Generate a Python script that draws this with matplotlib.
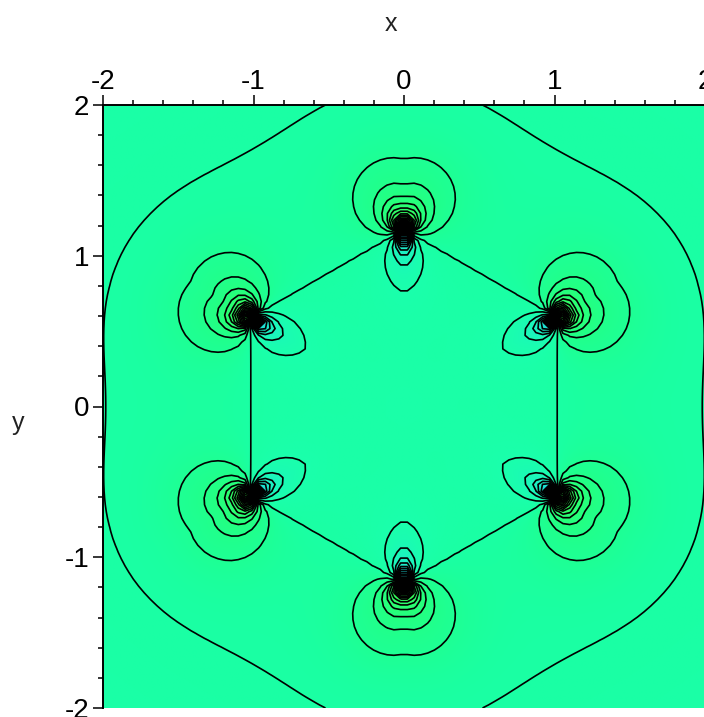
import numpy as np
import matplotlib
matplotlib.use("Agg")
import matplotlib.pyplot as plt
from matplotlib.colors import LinearSegmentedColormap, Normalize

plt.rcParams['font.family'] = ['Liberation Sans', 'DejaVu Sans']

source_angles = [90, 150, 210, 270, 330, 30]
source_radius = 1.165
outer_strength = 0.56
inner_strength = 0.36
side_share = 0.6
tail_reach = 0.7
hex_apothem = 1.02
outer_radius = 2.03
outer_wobble = 0.05
center_value = 0.6
contour_levels = [v for v in range(-60, 61)]
x_ticks = [-2, -1, 0, 1, 2]
y_ticks = [-2, -1, 0, 1, 2]
color_values = [-8, -3, -1, 0, 1, 3, 8]
color_list = ['#3cff50', '#24ff80', '#1eff94', '#1affa4', '#1affac', '#1cf4c0', '#20d8d8']


def field(x, y):
    r = np.hypot(x, y)
    phi = np.arctan2(y, x)
    # everything carries the hexagon factor, so the hexagon itself stays a level line
    faces = [np.abs(x*np.cos(np.radians(a)) + y*np.sin(np.radians(a))) for a in (0, 60, 120)]
    hex_part = np.max(faces, axis=0) / hex_apothem - 1
    big_r = outer_radius + outer_wobble*np.cos(6*(phi - np.pi/2))
    total = center_value * (r/big_r - 1)
    # one dipole at each corner of the hexagon
    for a in source_angles:
        nx, ny = np.cos(np.radians(a)), np.sin(np.radians(a))
        dx = x - source_radius*nx
        dy = y - source_radius*ny
        rho2 = dx**2 + dy**2 + 1e-5
        cos2 = (dx*nx + dy*ny)**2 / rho2
        strength = np.where(hex_part > 0, outer_strength, inner_strength)
        strength = strength * (side_share + (1 - side_share)*cos2)
        total = total - strength / rho2**1.125 * np.exp(-rho2**2/tail_reach**4)
    return total * hex_part


fig = plt.figure(figsize=(7.04, 7.17), dpi=100)
ax = fig.add_axes([103/704, 1 - 708/717, 602/704, 603/717])

xf, yf = np.meshgrid(np.linspace(-2, 2, 500), np.linspace(-2, 2, 500))
cmap = LinearSegmentedColormap.from_list(
    'maple', [((v + 8)/16, c) for v, c in zip(color_values, color_list)])
ax.imshow(field(xf, yf), extent=[-2, 2, -2, 2], origin='lower', cmap=cmap,
          norm=Normalize(-8, 8), interpolation='bilinear', aspect='auto')

# coarse grid on purpose, the original lines are jagged
xc, yc = np.meshgrid(np.linspace(-2, 2, 90), np.linspace(-2, 2, 90))
ax.contour(xc, yc, field(xc, yc), levels=contour_levels, colors='black',
           linewidths=1.2, linestyles='solid')

ax.set_xlim(-2, 2)
ax.set_ylim(-2, 2)
ax.spines['right'].set_visible(False)
ax.spines['bottom'].set_visible(False)
ax.spines['left'].set_linewidth(1.4)
ax.spines['top'].set_linewidth(1.4)
ax.xaxis.tick_top()
ax.set_xticks(x_ticks)
ax.set_yticks(y_ticks)
ax.set_xticklabels([str(t) for t in x_ticks])
ax.set_yticklabels([str(t) for t in y_ticks])
ax.set_xticks(np.arange(-2, 2.01, 0.2), minor=True)
ax.set_yticks(np.arange(-2, 2.01, 0.2), minor=True)
ax.tick_params(which='major', length=7, width=1.1, labelsize=20, pad=0)
ax.tick_params(axis='y', which='major', pad=3)
ax.tick_params(which='minor', length=3.5, width=1.1)

fig.text(391/704, 1 - 24/717, 'x', fontsize=18, ha='center', va='center', color='#222222')
fig.text(18/704, 1 - 423/717, 'y', fontsize=18, ha='center', va='center', color='#222222')

fig.savefig('out.png', dpi=100)
